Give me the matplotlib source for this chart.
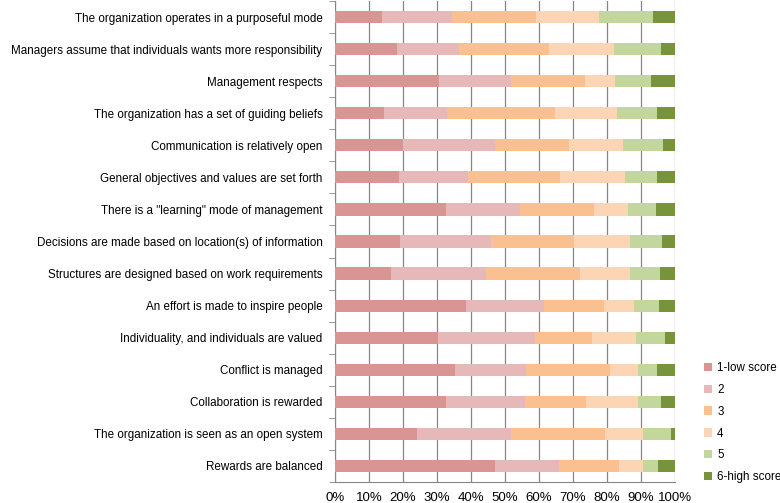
import matplotlib
matplotlib.use("Agg")
import matplotlib.pyplot as plt
import numpy as np

categories = [
    "The organization operates in a purposeful mode",
    "Managers assume that individuals wants more responsibility",
    "Management respects",
    "The organization has a set of guiding beliefs",
    "Communication is relatively open",
    "General objectives and values are set forth",
    "There is a \"learning\" mode of management",
    "Decisions are made based on location(s) of information",
    "Structures are designed based on work requirements",
    "An effort is made to inspire people",
    "Individuality, and individuals are valued",
    "Conflict is managed",
    "Collaboration is rewarded",
    "The organization is seen as an open system",
    "Rewards are balanced",
]

series_names = ["1-low score", "2", "3", "4", "5", "6-high score"]

# percentage of answers per score, one list per score level
score1 = [13.7, 18.1, 30.5, 14.4, 20.1, 18.8, 32.6, 19.1, 16.4, 38.6, 30.4, 35.2, 32.5, 24.0, 47.2]
score2 = [20.7, 18.3, 21.4, 18.6, 26.9, 20.2, 21.9, 26.8, 27.9, 22.8, 28.3, 21.0, 23.3, 27.8, 18.6]
score3 = [24.7, 26.4, 21.6, 31.6, 21.7, 27.2, 21.7, 24.5, 27.9, 17.7, 16.9, 24.7, 18.1, 27.5, 17.6]
score4 = [18.6, 19.4, 8.9, 18.2, 16.0, 19.2, 10.1, 16.5, 14.7, 8.9, 13.0, 8.1, 15.3, 11.4, 7.2]
score5 = [15.8, 13.7, 10.4, 11.9, 11.8, 9.3, 8.0, 9.3, 8.6, 7.2, 8.5, 5.7, 6.8, 8.0, 4.5]
score6 = [6.5, 4.1, 7.2, 5.3, 3.5, 5.3, 5.7, 3.8, 4.5, 4.8, 2.9, 5.3, 4.0, 1.3, 4.9]

colors = ["#D99594", "#E6B9B8", "#FAC090", "#FCD5B5", "#C3D69B", "#77933C"]

plt.rcParams["font.family"] = ["Liberation Sans", "DejaVu Sans"]

fig = plt.figure(figsize=(7.8, 5.03), dpi=100)
ax = fig.add_axes([0.4295, 0.0417, 0.4359, 0.9563])

data = np.array([score1, score2, score3, score4, score5, score6], dtype=float)
data = data / data.sum(axis=0) * 100
y = np.arange(len(categories))
left = np.zeros(len(categories))
for vals, name, c in zip(data, series_names, colors):
    ax.barh(y, vals, left=left, height=0.38, color=c, label=name, zorder=3)
    left += vals

ax.set_xlim(0, 100)
ax.set_ylim(len(categories) - 0.5, -0.5)
ax.set_xticks(np.arange(0, 101, 10))
ax.set_xticklabels(["%d%%" % v for v in range(0, 101, 10)], fontsize=9.5)
ax.set_yticks(y)
ax.set_yticklabels(categories, fontsize=8.4)
ax.tick_params(axis="y", length=0, pad=9)
ax.set_yticks(np.arange(-0.5, len(categories), 1), minor=True)
ax.tick_params(axis="y", which="minor", length=4, color="#868686")
ax.tick_params(axis="x", length=0, pad=7)
ax.grid(axis="x", color="#868686", linewidth=0.9, zorder=0)
for s in ax.spines.values():
    s.set_color("#868686")
ax.spines["right"].set_visible(False)
ax.spines["top"].set_visible(False)

handles, labels = ax.get_legend_handles_labels()
fig.legend(handles, labels, loc="upper left", bbox_to_anchor=(0.897, 0.29),
           frameon=False, fontsize=8.4, handlelength=0.7, handleheight=0.7,
           handletextpad=0.4, labelspacing=0.85, borderaxespad=0)

fig.savefig("out.png", dpi=100)
